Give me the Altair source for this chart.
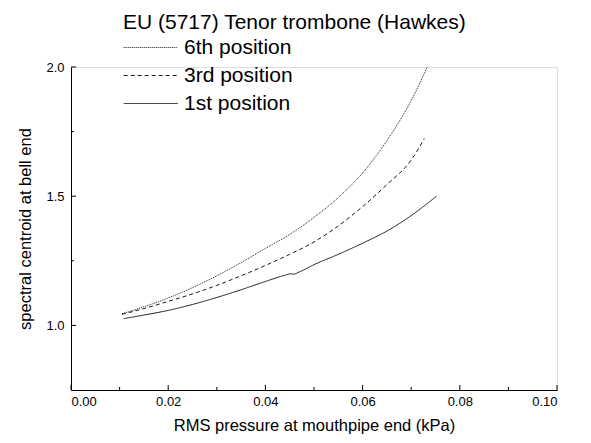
import altair as alt
import pandas as pd

# --- data ---
series_names = ["6th position", "3rd position", "1st position"]

x_6th = [0.0105, 0.015, 0.02, 0.025, 0.03, 0.035, 0.04, 0.045, 0.05, 0.055, 0.06, 0.065, 0.07, 0.0733]
y_6th = [1.045, 1.072, 1.106, 1.146, 1.192, 1.243, 1.298, 1.352, 1.418, 1.495, 1.59, 1.715, 1.87, 2.0]

x_3rd = [0.0105, 0.015, 0.02, 0.025, 0.03, 0.035, 0.04, 0.045, 0.05, 0.055, 0.06, 0.065, 0.07, 0.0727]
y_3rd = [1.043, 1.065, 1.093, 1.122, 1.155, 1.192, 1.232, 1.275, 1.323, 1.385, 1.46, 1.545, 1.64, 1.723]

x_1st = [0.0108, 0.015, 0.02, 0.025, 0.03, 0.035, 0.04, 0.044, 0.0452, 0.0458, 0.047, 0.05, 0.055, 0.06, 0.065, 0.07, 0.0752]
y_1st = [1.026, 1.04, 1.058, 1.081, 1.108, 1.138, 1.17, 1.194, 1.1995, 1.1985, 1.207, 1.235, 1.275, 1.318, 1.365, 1.425, 1.50]

x_major = [0.0, 0.02, 0.04, 0.06, 0.08, 0.10]
x_minor = [0.01, 0.03, 0.05, 0.07, 0.09]
y_major = [1.0, 1.5, 2.0]
y_minor = [1.25, 1.75]

title_text = "EU (5717) Tenor trombone (Hawkes)"
x_title = "RMS pressure at mouthpipe end (kPa)"
y_title = "spectral centroid at bell end"

rows = []
for name, xs, ys in [("6th position", x_6th, y_6th), ("3rd position", x_3rd, y_3rd), ("1st position", x_1st, y_1st)]:
    for i, (a, b) in enumerate(zip(xs, ys)):
        rows.append({"series": name, "x": a, "y": b, "order": i})
df = pd.DataFrame(rows)

W, H = 486, 323
FONT = "Liberation Sans"

xscale = alt.Scale(domain=[0, 0.1], nice=False, zero=False)
yscale = alt.Scale(domain=[0.75, 2.0], nice=False, zero=False)

xaxis = alt.Axis(values=x_major, format=".2f", ticks=False, grid=False, title=x_title,
                 labelFontSize=13, titleFontSize=16.5, titleFontWeight="normal",
                 labelPadding=5, titlePadding=9, domainColor="black", labelColor="black",
                 titleColor="black", labelFont=FONT, titleFont=FONT)
yaxis = alt.Axis(values=y_major, format=".1f", ticks=False, grid=False, title=y_title,
                 labelFontSize=13, titleFontSize=16.5, titleFontWeight="normal",
                 labelPadding=7, titlePadding=12, domainColor="black", labelColor="black",
                 titleColor="black", labelFont=FONT, titleFont=FONT)

lines = alt.Chart(df).mark_line(strokeWidth=1, interpolate="monotone", color="#1a1a1a").encode(
    x=alt.X("x:Q", scale=xscale, axis=xaxis),
    y=alt.Y("y:Q", scale=yscale, axis=yaxis),
    order="order:Q",
    strokeDash=alt.StrokeDash("series:N",
        scale=alt.Scale(domain=series_names, range=[[1, 1], [4, 3], [1, 0]]),
        legend=alt.Legend(title=title_text, orient="none", legendX=52, legendY=-55,
                          symbolType="M-1,0H4", symbolSize=467, symbolStrokeWidth=1,
                          symbolStrokeColor="#1a1a1a",
                          labelFontSize=21, titleFontSize=21, titleFontWeight="normal",
                          titleLimit=600, labelLimit=400,
                          labelFont=FONT, titleFont=FONT, rowPadding=6, titlePadding=3,
                          padding=0, labelOffset=38, labelColor="black", titleColor="black")),
)

xt_major = alt.Chart(pd.DataFrame({"x": x_major})).mark_rule(color="black", strokeWidth=1).encode(
    x=alt.X("x:Q", scale=xscale, axis=xaxis), y=alt.value(H), y2=alt.value(H - 5))
xt_minor = alt.Chart(pd.DataFrame({"x": x_minor})).mark_rule(color="black", strokeWidth=1).encode(
    x=alt.X("x:Q", scale=xscale, axis=xaxis), y=alt.value(H), y2=alt.value(H - 3))
yt_major = alt.Chart(pd.DataFrame({"y": y_major})).mark_rule(color="black", strokeWidth=1).encode(
    y=alt.Y("y:Q", scale=yscale, axis=yaxis), x=alt.value(0), x2=alt.value(5))
yt_minor = alt.Chart(pd.DataFrame({"y": y_minor})).mark_rule(color="black", strokeWidth=1).encode(
    y=alt.Y("y:Q", scale=yscale, axis=yaxis), x=alt.value(0), x2=alt.value(3))

chart = alt.layer(lines, xt_major, xt_minor, yt_major, yt_minor).properties(
    width=W, height=H,
    autosize=alt.AutoSizeParams(type="none"),
    padding={"left": 63, "top": 59, "right": 20, "bottom": 45},
).configure_view(strokeWidth=0).configure(background="white")

chart.save("out.html", embed_options={"renderer": "svg", "actions": False})
